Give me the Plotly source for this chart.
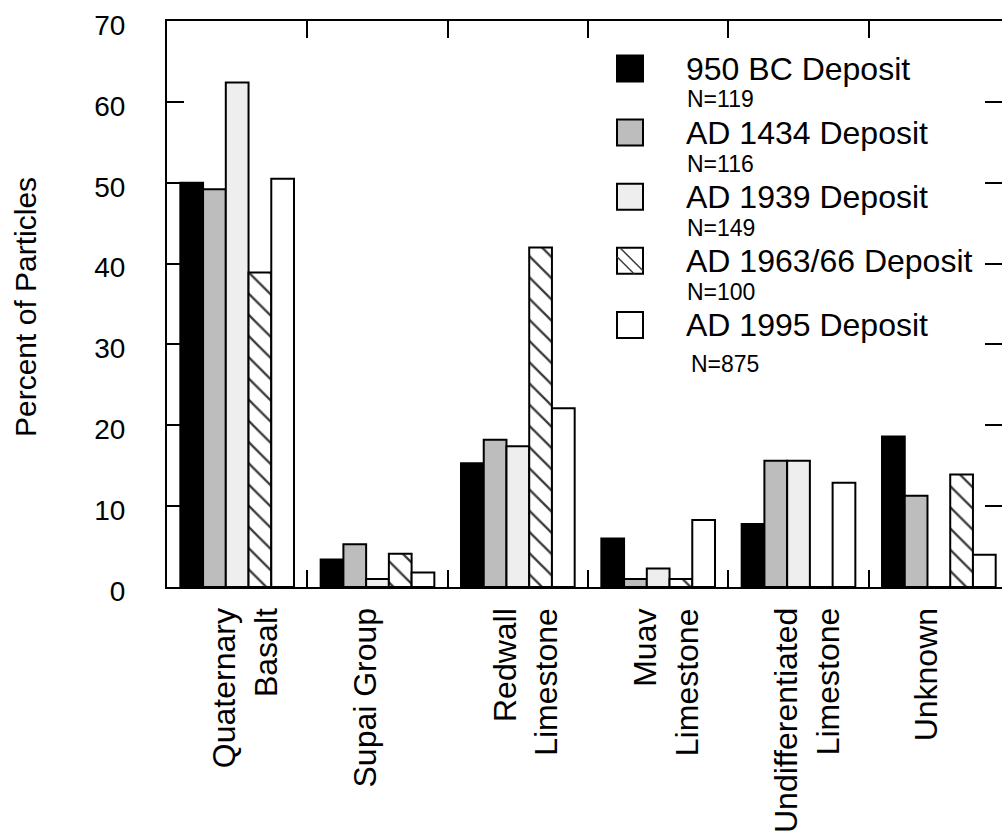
import plotly.graph_objects as go

# Source-rock categories (two-line labels)
categories = [
    "Quaternary<br>Basalt",
    "Supai Group",
    "Redwall<br>Limestone",
    "Muav<br>Limestone",
    "Undifferentiated<br>Limestone",
    "Unknown",
]

# Percent of particles per deposit
bc950 = [50.0, 3.4, 15.3, 6.0, 7.8, 18.6]
ad1434 = [49.2, 5.3, 18.2, 1.0, 15.6, 11.3]
ad1939 = [62.4, 1.0, 17.4, 2.3, 15.6, 0.0]
ad1963 = [38.9, 4.1, 42.0, 1.0, 0.0, 13.9]
ad1995 = [50.5, 1.8, 22.1, 8.3, 12.9, 4.0]

series_names = [
    "950 BC Deposit",
    "AD 1434 Deposit",
    "AD 1939 Deposit",
    "AD 1963/66 Deposit",
    "AD 1995 Deposit",
]
sample_sizes = ["N=119", "N=116", "N=149", "N=100", "N=875"]

y_ticks = [0, 10, 20, 30, 40, 50, 60, 70]

FONT = "Liberation Sans, Arial, Helvetica, sans-serif"
W, H = 1002, 838
ML, MR, MT, MB = 167, 0, 21, 251

fills = ["#000000", "#bdbdbd", "#eeeeee", "#ffffff", "#ffffff"]
hatched = [False, False, False, True, False]
values = [bc950, ad1434, ad1939, ad1963, ad1995]

fig = go.Figure()
for name, vals, fill, hatch in zip(series_names, values, fills, hatched):
    marker = dict(color=fill, line=dict(color="#000000", width=2))
    if hatch:
        marker["pattern"] = dict(
            shape="\\", size=15, solidity=0.15,
            fgcolor="#3a3a3a", bgcolor="#ffffff", fillmode="replace",
        )
    fig.add_trace(go.Bar(x=categories, y=vals, name=name, marker=marker,
                         showlegend=False))


def px_x(px):
    return (px - ML) / (W - ML - MR)


def px_y(py):
    return (H - MB - py) / (H - MT - MB)


shapes = []
annotations = []

# Category labels, rotated, first line anchored just left of each category centre
for cat in categories:
    annotations.append(dict(
        xref="x", x=cat, yref="paper", y=px_y(606),
        text=cat, textangle=-90, showarrow=False,
        xanchor="left", yanchor="top", align="right", xshift=-33,
        font=dict(family=FONT, size=32, color="#000000"),
    ))

# Hand-built legend: swatches and labels in pixel positions
sw_left, sw_size = 617, 26
row_top0, row_step = 55.5, 64.1
for i, (name, n_txt, fill, hatch) in enumerate(zip(series_names, sample_sizes, fills, hatched)):
    top = row_top0 + i * row_step
    cy = top + sw_size / 2
    shapes.append(dict(
        type="rect", xref="paper", yref="paper",
        x0=px_x(sw_left), x1=px_x(sw_left + sw_size),
        y0=px_y(top + sw_size), y1=px_y(top),
        fillcolor=fill, line=dict(color="#000000", width=2), layer="above",
    ))
    if hatch:
        for off in (-9, 3):
            # diagonal hatch line clipped to the swatch
            x0, y0 = sw_left + max(off, 0), top + max(-off, 0)
            length = sw_size - abs(off)
            shapes.append(dict(
                type="line", xref="paper", yref="paper",
                x0=px_x(x0), y0=px_y(y0),
                x1=px_x(x0 + length), y1=px_y(y0 + length),
                line=dict(color="#3a3a3a", width=1.5), layer="above",
            ))
    annotations.append(dict(
        xref="paper", yref="paper", x=px_x(684), y=px_y(cy),
        text=name, showarrow=False, xanchor="left", yanchor="middle",
        font=dict(family=FONT, size=32, color="#000000"),
    ))
    n_dy = 39 if i == len(series_names) - 1 else 31
    n_dx = 4 if i == len(series_names) - 1 else 0
    annotations.append(dict(
        xref="paper", yref="paper", x=px_x(685 + n_dx), y=px_y(cy + n_dy),
        text=n_txt, showarrow=False, xanchor="left", yanchor="middle",
        font=dict(family=FONT, size=23, color="#000000"),
    ))

# y-axis title
annotations.append(dict(
    xref="paper", yref="paper", x=px_x(25), y=px_y(307),
    text="Percent of Particles", textangle=-90, showarrow=False,
    xanchor="center", yanchor="middle",
    font=dict(family=FONT, size=30, color="#000000"),
))

fig.update_layout(
    width=W, height=H,
    margin=dict(l=ML, r=MR, t=MT, b=MB, pad=0, autoexpand=False),
    paper_bgcolor="#ffffff", plot_bgcolor="#ffffff",
    barmode="group", bargap=0.19, bargroupgap=0,
    font=dict(family=FONT, color="#000000"),
    shapes=shapes, annotations=annotations,
    showlegend=False,
)
fig.update_xaxes(
    type="category", range=[-0.5, 5.45], automargin=False,
    showline=True, linecolor="#000000", linewidth=2, mirror="ticks",
    ticks="inside", tickson="boundaries", ticklen=17, tickwidth=2,
    tickcolor="#000000", showticklabels=False,
    showgrid=False, zeroline=False,
)
fig.update_yaxes(
    range=[0, 70], tickvals=y_ticks, automargin=False,
    showline=True, linecolor="#000000", linewidth=2, mirror="ticks",
    ticks="inside", ticklen=17, tickwidth=2, tickcolor="#000000",
    tickfont=dict(family=FONT, size=28, color="#000000"),
    ticklabelstandoff=34, ticklabelshift=4,
    showgrid=False, zeroline=False,
)

fig.write_html("out.html")
